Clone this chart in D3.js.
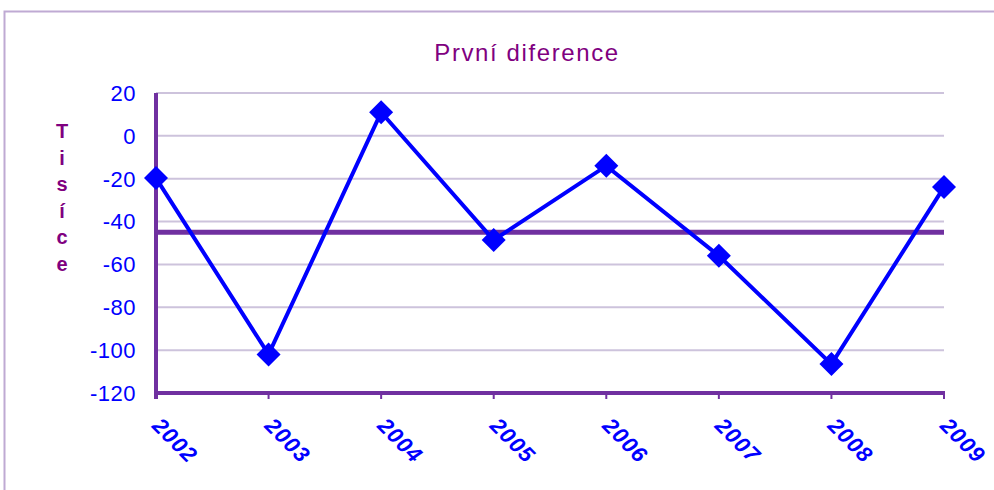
<!DOCTYPE html>
<html>
<head>
<meta charset="utf-8">
<script src="https://cdn.jsdelivr.net/npm/d3@7"></script>
<style>
  body { margin: 0; background: #fff; }
  text { font-family: "Liberation Sans", Arial, sans-serif; }
</style>
</head>
<body>
<div id="chart"></div>
<script>
var w = 994,
    h = 490;

// data
var years = ["2002", "2003", "2004", "2005", "2006", "2007", "2008", "2009"];
var values = [-19.7, -102, 11, -48.6, -14, -56, -106.5, -23.9];
var meanValue = -45;
var yTicks = [20, 0, -20, -40, -60, -80, -100, -120];
var yLabel = "Tisíce";
var title = "První diference";

var plotLeft = 156, plotRight = 944, plotTop = 93, plotBottom = 393;

var svg = d3.select("#chart").append("svg")
    .attr("width", w)
    .attr("height", h);

// outer frame
svg.append("rect")
    .attr("x", 4.5).attr("y", 11.5)
    .attr("width", w + 10).attr("height", h - 8)
    .attr("fill", "none")
    .attr("stroke", "#bfaad3")
    .attr("stroke-width", 2);

var x = d3.scalePoint().domain(years).range([plotLeft, plotRight]);
var y = d3.scaleLinear().domain([-120, 20]).range([plotBottom, plotTop]);

// gridlines
svg.selectAll(".grid")
    .data(yTicks.filter(function(d) { return d !== -120; }))
    .enter().append("line")
    .attr("class", "grid")
    .attr("x1", plotLeft).attr("x2", plotRight)
    .attr("y1", function(d) { return y(d); })
    .attr("y2", function(d) { return y(d); })
    .attr("stroke", "#cdc3dc")
    .attr("stroke-width", 2);

// y tick labels
svg.selectAll(".ylab")
    .data(yTicks)
    .enter().append("text")
    .attr("class", "ylab")
    .attr("x", 136)
    .attr("y", function(d) { return y(d); })
    .attr("dy", "0.36em")
    .attr("text-anchor", "end")
    .attr("fill", "#0000ff")
    .style("font-size", "22px")
    .style("letter-spacing", "0.5px")
    .text(function(d) { return d; });

// axes
svg.append("line")
    .attr("x1", plotLeft).attr("x2", plotLeft)
    .attr("y1", plotTop).attr("y2", plotBottom + 6)
    .attr("stroke", "#7030a0").attr("stroke-width", 4);
svg.append("line")
    .attr("x1", plotLeft - 2).attr("x2", plotRight + 1)
    .attr("y1", plotBottom).attr("y2", plotBottom)
    .attr("stroke", "#7030a0").attr("stroke-width", 4);

svg.selectAll(".xtick")
    .data(years)
    .enter().append("line")
    .attr("class", "xtick")
    .attr("x1", function(d) { return x(d); })
    .attr("x2", function(d) { return x(d); })
    .attr("y1", plotBottom).attr("y2", plotBottom + 6)
    .attr("stroke", "#7030a0").attr("stroke-width", 2);

// x labels, rotated
svg.selectAll(".xlab")
    .data(years)
    .enter().append("text")
    .attr("class", "xlab")
    .attr("transform", function(d) { return "translate(" + (x(d) - 5) + "," + 427 + ") rotate(45)"; })
    .attr("fill", "#0000ff")
    .style("font-size", "22px")
    .style("letter-spacing", "1px")
    .style("font-weight", "bold")
    .style("font-style", "italic")
    .text(function(d) { return d; });

// mean line
svg.append("line")
    .attr("x1", plotLeft).attr("x2", plotRight)
    .attr("y1", y(meanValue)).attr("y2", y(meanValue))
    .attr("stroke", "#7030a0").attr("stroke-width", 5);

// series
var line = d3.line()
    .x(function(d, i) { return x(years[i]); })
    .y(function(d) { return y(d); });

svg.append("path")
    .datum(values)
    .attr("d", line)
    .attr("fill", "none")
    .attr("stroke", "#0000ff")
    .attr("stroke-width", 4);

svg.selectAll(".pt")
    .data(values)
    .enter().append("path")
    .attr("class", "pt")
    .attr("d", "M0,-12L12,0L0,12L-12,0Z")
    .attr("transform", function(d, i) { return "translate(" + x(years[i]) + "," + y(d) + ")"; })
    .attr("fill", "#0000ff");

// title
svg.append("text")
    .attr("x", 527).attr("y", 61)
    .attr("text-anchor", "middle")
    .attr("fill", "#800080")
    .style("font-size", "24px")
    .style("letter-spacing", "1.6px")
    .text(title);

// stacked y label
svg.selectAll(".ychar")
    .data(yLabel.split(""))
    .enter().append("text")
    .attr("class", "ychar")
    .attr("x", 62)
    .attr("y", function(d, i) { return 138 + i * 26.5; })
    .attr("text-anchor", "middle")
    .attr("fill", "#800080")
    .style("font-size", "20px")
    .style("font-weight", "bold")
    .text(function(d) { return d; });
</script>
</body>
</html>
